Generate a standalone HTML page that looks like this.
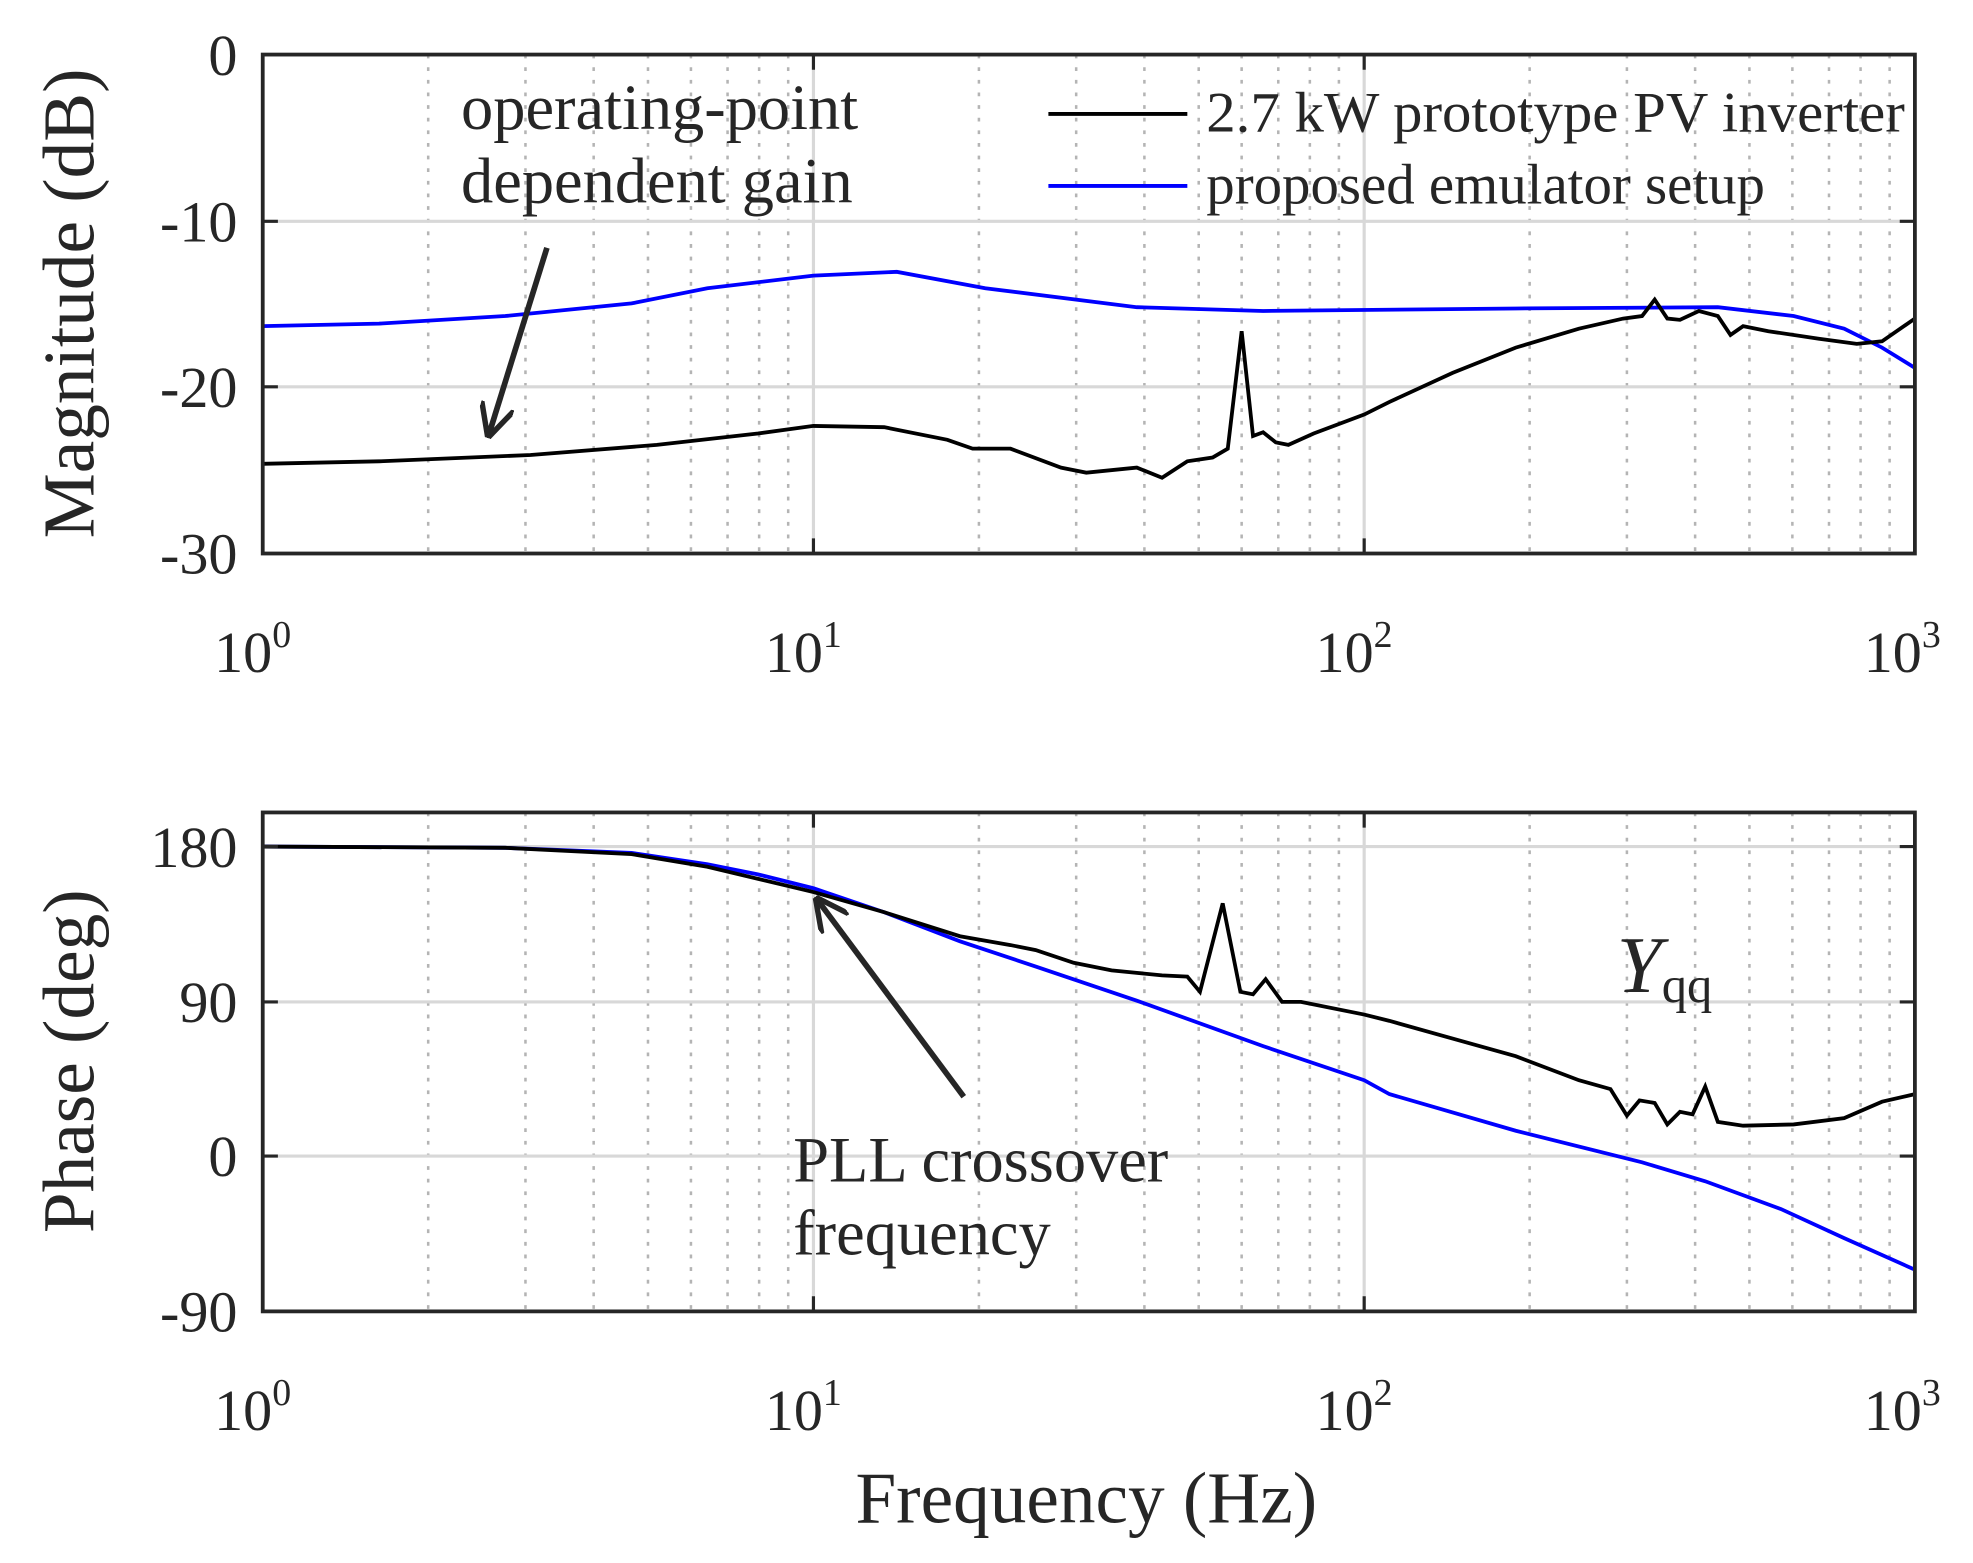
<!DOCTYPE html>
<html><head><style>html,body{margin:0;padding:0;background:#fff}svg{display:block}</style></head><body>
<svg width="1973" height="1563" viewBox="0 0 1562 1237" xmlns="http://www.w3.org/2000/svg" font-family="Liberation Serif, serif" fill="#262626">
<defs>
<marker id="ah" viewBox="0 0 10 10" refX="9" refY="5" markerWidth="6" markerHeight="6" orient="auto"><path d="M0,0 L10,5 L0,10" fill="none" stroke="#262626" stroke-width="1.6"/></marker>
</defs>
<g stroke="#b4b4b4" stroke-width="2" stroke-dasharray="3,7">
<path d="M339 43V438M416 43V438M470 43V438M513 43V438M547 43V438M576 43V438M601 43V438M624 43V438M775 43V438M852 43V438M906 43V438M949 43V438M983 43V438M1012 43V438M1037 43V438M1060 43V438M1211 43V438M1288 43V438M1342 43V438M1385 43V438M1419 43V438M1448 43V438M1473 43V438M1496 43V438"/>
<path d="M339 643V1038M416 643V1038M470 643V1038M513 643V1038M547 643V1038M576 643V1038M601 643V1038M624 643V1038M775 643V1038M852 643V1038M906 643V1038M949 643V1038M983 643V1038M1012 643V1038M1037 643V1038M1060 643V1038M1211 643V1038M1288 643V1038M1342 643V1038M1385 643V1038M1419 643V1038M1448 643V1038M1473 643V1038M1496 643V1038"/>
</g>
<g stroke="#d8d8d8" stroke-width="2.5" fill="none">
<path d="M644 43V438M1080 43V438M208 175H1516M208 306H1516"/>
<path d="M644 643V1038M1080 643V1038M208 670H1516M208 793H1516M208 915H1516"/>
</g>
<polyline fill="none" stroke="#0000ff" stroke-width="3" points="208,258 300,256 400,250 500,240 560,228 644,218 710,215 780,228 900,243 1000,246 1200,244 1360,243 1420,250 1460,260 1490,275 1516,291"/>
<polyline fill="none" stroke="#000" stroke-width="3" points="208,367 300,365 420,360 520,352 600,343 644,337 700,338 750,348 770,355 800,355 840,370 860,374 900,370 920,378 940,365 960,362 972,355 983,262 992,345 1000,342 1010,350 1020,352 1040,343 1080,328 1100,318 1150,295 1200,275 1250,260 1285,252 1300,250 1310,237 1320,252 1330,253 1345,246 1360,250 1370,265 1380,258 1400,262 1440,268 1470,272 1490,270 1516,252"/>
<polyline fill="none" stroke="#0000ff" stroke-width="3" points="208,670 400,671 500,675 560,684 600,692 644,703 700,722 760,745 820,765 900,792 1000,828 1080,855 1100,866 1200,895 1300,920 1350,935 1410,957 1460,980 1516,1005"/>
<polyline fill="none" stroke="#000" stroke-width="3" points="208,670 400,671 500,676 560,686 644,706 700,722 760,741 800,748 820,752 850,762 880,768 900,770 920,772 940,773 950,785 968,715 982,785 992,787 1002,775 1015,793 1030,793 1080,803 1100,808 1150,822 1200,836 1250,855 1275,862 1288,883 1298,871 1310,873 1320,890 1330,880 1340,882 1350,860 1360,888 1380,891 1420,890 1460,885 1490,872 1516,866"/>
<rect x="208" y="43" width="1308" height="395" fill="none" stroke="#262626" stroke-width="3"/>
<rect x="208" y="643" width="1308" height="395" fill="none" stroke="#262626" stroke-width="3"/>
<g stroke="#262626" stroke-width="2.5">
<path d="M208 175h12M208 306h12M1516 175h-12M1516 306h-12M644 438v-12M1080 438v-12M644 43v12M1080 43v12"/>
<path d="M208 670h12M208 793h12M208 915h12M1516 670h-12M1516 793h-12M1516 915h-12M644 1038v-12M1080 1038v-12M644 643v12M1080 643v12"/>
</g>
<g font-size="46" text-anchor="end">
<text x="188" y="59">0</text><text x="188" y="191">-10</text><text x="188" y="322">-20</text><text x="188" y="454">-30</text>
<text x="188" y="686">180</text><text x="188" y="809">90</text><text x="188" y="931">0</text><text x="188" y="1054">-90</text>
</g>
<g font-size="46" text-anchor="middle">
<text x="200" y="532">10<tspan font-size="30" dy="-20">0</tspan></text>
<text x="636" y="532">10<tspan font-size="30" dy="-20">1</tspan></text>
<text x="1072" y="532">10<tspan font-size="30" dy="-20">2</tspan></text>
<text x="1506" y="532">10<tspan font-size="30" dy="-20">3</tspan></text>
<text x="200" y="1132">10<tspan font-size="30" dy="-20">0</tspan></text>
<text x="636" y="1132">10<tspan font-size="30" dy="-20">1</tspan></text>
<text x="1072" y="1132">10<tspan font-size="30" dy="-20">2</tspan></text>
<text x="1506" y="1132">10<tspan font-size="30" dy="-20">3</tspan></text>
</g>
<text x="860" y="1205" font-size="58" text-anchor="middle">Frequency (Hz)</text>
<text transform="translate(74,240) rotate(-90)" font-size="58" text-anchor="middle">Magnitude (dB)</text>
<text transform="translate(74,840) rotate(-90)" font-size="58" text-anchor="middle">Phase (deg)</text>
<line x1="830" y1="90" x2="940" y2="90" stroke="#000" stroke-width="3"/>
<line x1="830" y1="147" x2="940" y2="147" stroke="#0000ff" stroke-width="3"/>
<text x="955" y="104" font-size="45" textLength="553" lengthAdjust="spacingAndGlyphs">2.7 kW prototype PV inverter</text>
<text x="955" y="161" font-size="45">proposed emulator setup</text>
<text x="365" y="102" font-size="51">operating-point</text>
<text x="365" y="160" font-size="51">dependent gain</text>
<line x1="433" y1="196" x2="387" y2="344" stroke="#262626" stroke-width="4.5" marker-end="url(#ah)"/>
<text x="628" y="935" font-size="51">PLL crossover</text>
<text x="628" y="993" font-size="51">frequency</text>
<line x1="763" y1="868" x2="647" y2="712" stroke="#262626" stroke-width="4.5" marker-end="url(#ah)"/>
<text x="1280" y="785" font-size="64" font-style="italic">Y<tspan font-size="40" font-style="normal" dy="8">qq</tspan></text>
</svg>
</body></html>
